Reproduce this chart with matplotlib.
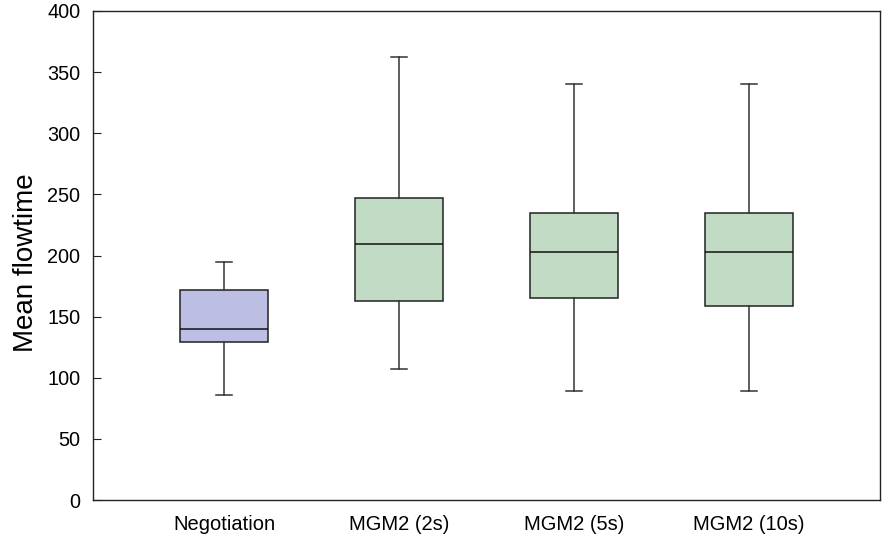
import matplotlib
matplotlib.use("Agg")
import matplotlib.pyplot as plt

plt.rcParams['font.family'] = ['Liberation Sans', 'DejaVu Sans']

categories = ["Negotiation", "MGM2 (2s)", "MGM2 (5s)", "MGM2 (10s)"]
whisker_low = [86, 107, 89, 89]
q1 = [129, 163, 165, 159]
median = [140, 209, 203, 203]
q3 = [172, 247, 235, 235]
whisker_high = [195, 362, 340, 340]
colors = ["#bdbee3", "#c2dbc4", "#c2dbc4", "#c2dbc4"]

stats = []
for i, c in enumerate(categories):
    stats.append(dict(label=c, whislo=whisker_low[i], q1=q1[i], med=median[i],
                      q3=q3[i], whishi=whisker_high[i], fliers=[]))

fig = plt.figure(figsize=(8.84, 5.36), dpi=100)
ax = fig.add_axes([93/884, 36/536, 787/884, 489/536])

positions = list(range(1, len(categories) + 1))
bp = ax.bxp(stats, positions=positions, widths=0.5, patch_artist=True,
            showfliers=False, capwidths=0.09,
            boxprops=dict(edgecolor="#222222", linewidth=1.1),
            medianprops=dict(color="#111111", linewidth=1.1),
            whiskerprops=dict(color="#333333", linewidth=1.1),
            capprops=dict(color="#333333", linewidth=1.1))
for patch, col in zip(bp['boxes'], colors):
    patch.set_facecolor(col)

ax.set_xlim(0.25, 4.75)
ax.set_ylim(0, 400)
ax.set_yticks(range(0, 401, 50))
ax.set_xticks(positions)
ax.set_xticklabels(categories)
ax.tick_params(axis='x', length=0, labelsize=14.5, pad=11)
ax.tick_params(axis='y', length=6, labelsize=14.3, direction='in', pad=9,
               color="#222222")
ax.set_ylabel("Mean flowtime", fontsize=20)
ax.yaxis.set_label_coords(-0.068, 0.485)
for s in ax.spines.values():
    s.set_linewidth(1.0)
    s.set_color("#222222")

fig.savefig("out.png", dpi=100)
